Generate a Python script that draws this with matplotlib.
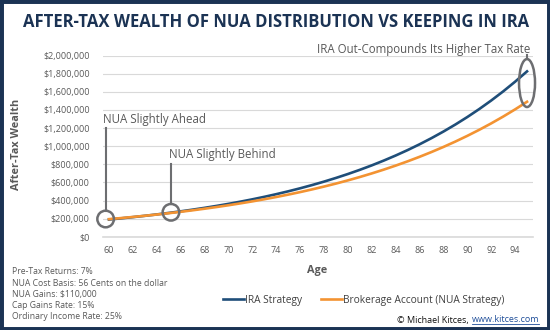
import matplotlib
matplotlib.use('Agg')
import matplotlib.pyplot as plt
from matplotlib.patches import Ellipse, Rectangle
from matplotlib.ticker import FuncFormatter

plt.rcParams['font.family'] = ['Open Sans', 'DejaVu Sans']

# data (thousands of $)
ages = list(range(60, 96))
ira = [190.0, 202.7, 216.2, 230.7, 246.1, 262.5, 280.1, 298.8, 318.7, 340.0,
       362.7, 387.0, 412.8, 440.4, 469.8, 501.2, 534.7, 570.4, 608.5, 649.2,
       692.5, 738.8, 788.1, 840.8, 897.0, 956.9, 1020.8, 1089.0, 1161.8, 1239.4,
       1322.2, 1410.5, 1504.7, 1605.2, 1712.5, 1826.9]
nua = [194.0, 205.6, 218.0, 231.1, 244.9, 259.6, 275.2, 291.7, 309.2, 327.8,
       347.4, 368.3, 390.4, 413.8, 438.6, 464.9, 492.8, 522.4, 553.8, 587.0,
       622.2, 659.5, 699.1, 741.0, 785.5, 832.6, 882.6, 935.6, 991.7, 1051.2,
       1114.3, 1181.1, 1252.0, 1327.1, 1406.7, 1491.1]
ira = [v * 1000 for v in ira]
nua = [v * 1000 for v in nua]

notes = ['Pre-Tax Returns: 7%',
         'NUA Cost Basis: 56 Cents on the dollar',
         'NUA Gains: $110,000',
         'Cap Gains Rate: 15%',
         'Ordinary Income Rate: 25%']

BLUE = '#1F4E79'
ORANGE = '#F39332'
GREY = '#595959'
ANN = '#6D6E71'
NAVY = '#1B3354'

W, H = 550, 330
fig = plt.figure(figsize=(5.5, 3.3), dpi=100)
ax = fig.add_axes([103 / W, 1 - 236.7 / H, 430 / W, 181 / H])

ax.plot(ages, ira, color=BLUE, lw=1.9, label='IRA Strategy', zorder=3)
ax.plot(ages, nua, color=ORANGE, lw=1.9, label='Brokerage Account (NUA Strategy)', zorder=4)

ax.set_xlim(59.5, 95.5)
ax.set_ylim(0, 2000000)
ax.set_xticks(range(60, 95, 2))
ax.set_yticks(range(0, 2000001, 200000))
ax.yaxis.set_major_formatter(FuncFormatter(lambda v, p: f'${v:,.0f}'))
ax.tick_params(length=0, labelsize=6.5, labelcolor=GREY)
ax.tick_params(axis='y', pad=9.5)
ax.tick_params(axis='x', pad=7)
ax.grid(axis='y', color='#D9D9D9', lw=0.8)
ax.set_axisbelow(True)
for s in ['top', 'right', 'left']:
    ax.spines[s].set_visible(False)
ax.spines['bottom'].set_color('#D9D9D9')
ax.spines['bottom'].set_linewidth(1.2)

# annotations (pixel sizes converted to data units)
xu = 1 / 11.94          # years per pixel
yu = 2000000 / 181.0    # dollars per pixel
for cx, cy in [(59.72, 195600), (65.19, 270000)]:
    ax.add_patch(Ellipse((cx, cy), 16.6 * xu, 16.6 * yu, fill=False,
                         ec=ANN, lw=1.8, zorder=5, clip_on=False))
ax.plot([59.72, 59.72], [195600 + 8.3 * yu, 1198000], color=ANN, lw=1.5, zorder=5)
ax.plot([65.19, 65.19], [270000 + 8.3 * yu, 803000], color=ANN, lw=1.5, zorder=5)
ax.add_patch(Ellipse((95.0, 1698000), 16 * xu, 48 * yu, fill=False,
                     ec=ANN, lw=1.8, zorder=5, clip_on=False))
ax.plot([95.0, 95.0], [1698000 + 24 * yu, 2010000], color=ANN, lw=1.5,
        zorder=5, clip_on=False)

ax.text(59.52, 1300000, 'NUA Slightly Ahead', fontsize=8.3, color=GREY, va='center', ha='left')
ax.text(65.05, 903000, 'NUA Slightly Behind', fontsize=8.3, color=GREY, va='center', ha='left')
ax.text(95.25, 2074000, 'IRA Out-Compounds Its Higher Tax Rate', fontsize=8.3,
        color=GREY, va='center', ha='right')

# titles and labels
fig.text(276 / W, 1 - 22 / H, 'AFTER-TAX WEALTH OF NUA DISTRIBUTION VS KEEPING IN IRA',
         fontsize=12, fontweight='bold', color=NAVY, ha='center', va='center')
fig.text(17 / W, 1 - 144 / H, 'After-Tax Wealth', fontsize=7.8, fontweight='bold',
         color=GREY, rotation=90, ha='center', va='center')
fig.text(317 / W, 1 - 271 / H, 'Age', fontsize=7.8, fontweight='bold', color=GREY,
         ha='center', va='center')

for i, line in enumerate(notes):
    fig.text(12 / W, 1 - (271.7 + i * 11.3) / H, line, fontsize=6.2, color=GREY,
             ha='left', va='center')

fig.legend(loc='center', bbox_to_anchor=(363.5 / W, 1 - 300 / H), ncol=2, frameon=False,
           fontsize=7.3, labelcolor='#404040', handlelength=2.1, handletextpad=0.1,
           columnspacing=1.8, borderpad=0)

# credit line
r = fig.canvas.get_renderer()
url = fig.text(539 / W, 1 - 320 / H, 'www.kitces.com', fontsize=6.5, color='#1F4E99',
               ha='right', va='center')
bb = url.get_window_extent(r).transformed(fig.transFigure.inverted())
fig.text(bb.x0, 1 - 320 / H, '\u00a9 Michael Kitces, ', fontsize=6.5, color='#111111',
         ha='right', va='center')
fig.add_artist(plt.Line2D([bb.x0, bb.x1], [bb.y0 + 0.3 / H, bb.y0 + 0.3 / H],
                          transform=fig.transFigure, color='#1F4E99', lw=0.6))

# frame
fig.add_artist(Rectangle((0, 0), 1, 1, transform=fig.transFigure, fill=False,
                         ec=NAVY, lw=5))

fig.savefig('out.png', dpi=100)
